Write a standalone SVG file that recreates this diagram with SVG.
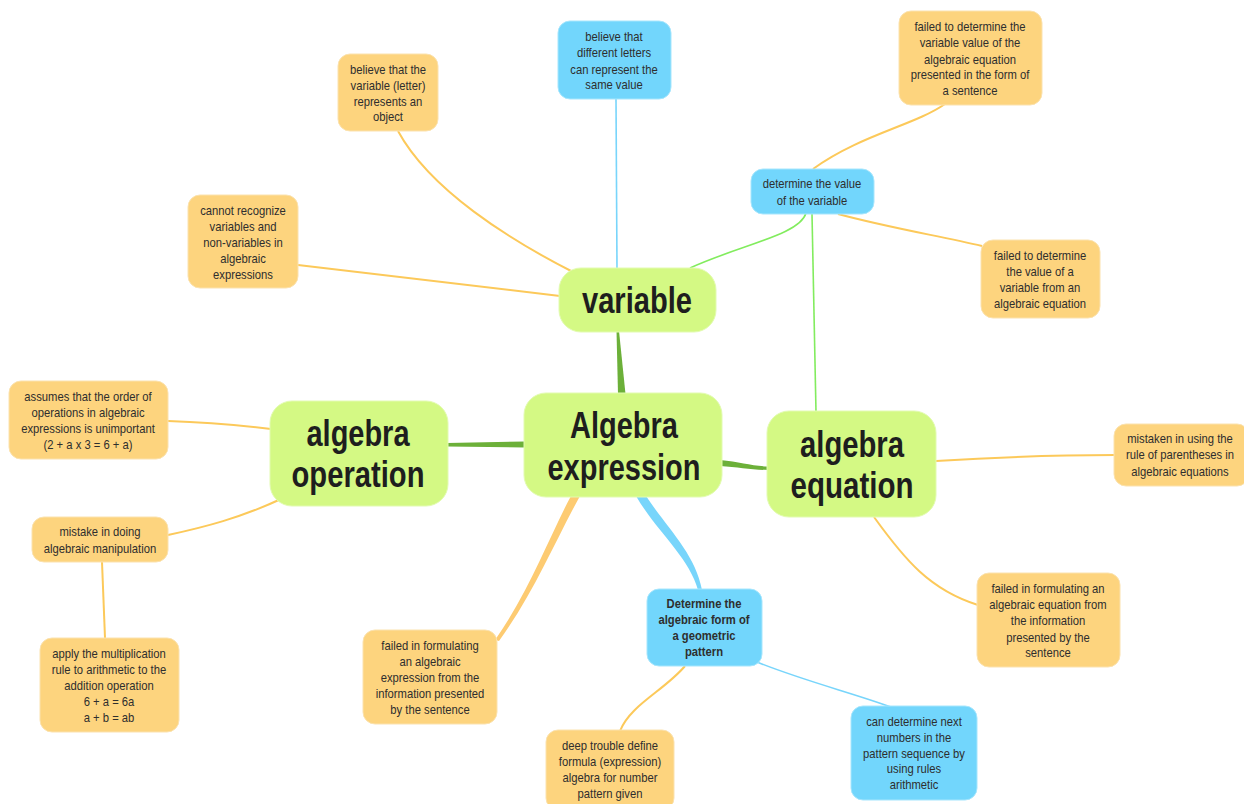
<svg xmlns="http://www.w3.org/2000/svg" width="1244" height="804" viewBox="0 0 1244 804">
<style>
.o{fill:#fdd47e;stroke:#fbe2ae;stroke-width:1}
.b{fill:#72d6fc;stroke:#a6e6fd;stroke-width:1}
.g{fill:#d4f984;stroke:#e2fbb0;stroke-width:1}
.t{font-family:"Liberation Sans",Arial,sans-serif;font-size:12.5px;fill:#2e2e2e;text-anchor:middle}
.tb{font-weight:bold}
.big{font-family:"Liberation Sans",Arial,sans-serif;font-size:36px;font-weight:bold;fill:#1e1e1e;text-anchor:middle}
.ly{fill:none;stroke:#fcc95a;stroke-width:2}
.lb{fill:none;stroke:#78d5fb;stroke-width:1.6}
.lg{fill:none;stroke:#82ec5e;stroke-width:1.6}
.dg{fill:#6cb039}
</style>
<rect width="1244" height="804" fill="#ffffff"/>
<g id="connectors">
  <path class="dg" d="M616.5,331 L619,331 L625.5,394 L618,394 Z"/>
  <path class="dg" d="M447,443 L525,441.5 L525,447.5 L447,446.5 Z"/>
  <path class="dg" d="M720,460 C740,462 752,466 768,466.5 L768,470 C752,470 738,467 720,466 Z"/>
  <path d="M571,496 C550,535 530,590 495,640 L499,641 C534,593 556,539 580,496 Z" fill="#fdcb72"/>
  <path d="M636,496 C657,532 689,557 698,590 L702,590 C695,553 667,528 646,496 Z" fill="#78d5fb"/>
  <path class="ly" d="M573,272 C510,240 430,190 398,131"/>
  <path class="ly" d="M560,296 C470,285 380,275 298,265"/>
  <path class="lb" d="M616,99 L617,269"/>
  <path class="lg" d="M690,268 C740,245 800,235 806,213"/>
  <path class="ly" d="M813,169 C860,135 915,125 945,104"/>
  <path class="ly" d="M838,214 C890,228 940,236 982,246"/>
  <path class="lg" d="M812,214 L816,412"/>
  <path class="ly" d="M271,429 C230,424 200,422 168,421"/>
  <path class="ly" d="M281,499 C240,518 205,527 168,535"/>
  <path class="ly" d="M102,562 L105,638"/>
  <path class="ly" d="M936,461 C1000,457 1060,455 1115,455"/>
  <path class="ly" d="M874,517 C905,560 930,590 978,605"/>
  <path class="ly" d="M685,666 C665,690 630,705 620,731"/>
  <path class="lb" d="M752,660 C800,680 850,692 891,707" stroke-width="2"/>
</g>
<g id="n-center">
  <rect class="g" x="524" y="393" width="198" height="104" rx="22"/>
  <text class="big" x="624" y="438" textLength="108" lengthAdjust="spacingAndGlyphs">Algebra</text>
  <text class="big" x="624" y="480" textLength="153" lengthAdjust="spacingAndGlyphs">expression</text>
</g>
<g id="n-variable">
  <rect class="g" x="559" y="268" width="157" height="64" rx="22"/>
  <text class="big" x="637" y="313" textLength="110" lengthAdjust="spacingAndGlyphs">variable</text>
</g>
<g id="n-operation">
  <rect class="g" x="270" y="401" width="178" height="105" rx="22"/>
  <text class="big" x="358" y="446" textLength="103" lengthAdjust="spacingAndGlyphs">algebra</text>
  <text class="big" x="358" y="487" textLength="133" lengthAdjust="spacingAndGlyphs">operation</text>
</g>
<g id="n-equation">
  <rect class="g" x="767" y="411" width="169" height="106" rx="22"/>
  <text class="big" x="852" y="457" textLength="104" lengthAdjust="spacingAndGlyphs">algebra</text>
  <text class="big" x="852" y="498" textLength="123" lengthAdjust="spacingAndGlyphs">equation</text>
</g>
<g id="n-object">
  <rect class="o" x="338" y="54" width="100" height="77" rx="12"/>
  <g transform="translate(388 0) scale(0.9 1)">
  <text class="t" x="0" y="74">believe that the</text>
  <text class="t" x="0" y="90">variable (letter)</text>
  <text class="t" x="0" y="106">represents an</text>
  <text class="t" x="0" y="121">object</text>
  </g>
</g>
<g id="n-recognize">
  <rect class="o" x="188" y="195" width="110" height="93" rx="12"/>
  <g transform="translate(243 0) scale(0.9 1)">
  <text class="t" x="0" y="215">cannot recognize</text>
  <text class="t" x="0" y="231">variables and</text>
  <text class="t" x="0" y="247">non-variables in</text>
  <text class="t" x="0" y="263">algebraic</text>
  <text class="t" x="0" y="279">expressions</text>
  </g>
</g>
<g id="n-letters">
  <rect class="b" x="558" y="21" width="113" height="78" rx="12"/>
  <g transform="translate(614 0) scale(0.9 1)">
  <text class="t" x="0" y="41">believe that</text>
  <text class="t" x="0" y="57">different letters</text>
  <text class="t" x="0" y="74">can represent the</text>
  <text class="t" x="0" y="89">same value</text>
  </g>
</g>
<g id="n-sentence-var">
  <rect class="o" x="899" y="11" width="143" height="94" rx="12"/>
  <g transform="translate(970 0) scale(0.9 1)">
  <text class="t" x="0" y="31">failed to determine the</text>
  <text class="t" x="0" y="47">variable value of the</text>
  <text class="t" x="0" y="64">algebraic equation</text>
  <text class="t" x="0" y="79">presented in the form of</text>
  <text class="t" x="0" y="95">a sentence</text>
  </g>
</g>
<g id="n-determine-value">
  <rect class="b" x="751" y="169" width="123" height="45" rx="12"/>
  <g transform="translate(812 0) scale(0.9 1)">
  <text class="t" x="0" y="188">determine the value</text>
  <text class="t" x="0" y="205">of the variable</text>
  </g>
</g>
<g id="n-from-equation">
  <rect class="o" x="981" y="240" width="119" height="78" rx="12"/>
  <g transform="translate(1040 0) scale(0.9 1)">
  <text class="t" x="0" y="260">failed to determine</text>
  <text class="t" x="0" y="276">the value of a</text>
  <text class="t" x="0" y="292">variable from an</text>
  <text class="t" x="0" y="308">algebraic equation</text>
  </g>
</g>
<g id="n-order">
  <rect class="o" x="9" y="381" width="159" height="78" rx="12"/>
  <g transform="translate(88 0) scale(0.9 1)">
  <text class="t" x="0" y="401">assumes that the order of</text>
  <text class="t" x="0" y="417">operations in algebraic</text>
  <text class="t" x="0" y="433">expressions is unimportant</text>
  <text class="t" x="0" y="449">(2 + a x 3 = 6 + a)</text>
  </g>
</g>
<g id="n-mistake">
  <rect class="o" x="32" y="517" width="136" height="45" rx="12"/>
  <g transform="translate(100 0) scale(0.9 1)">
  <text class="t" x="0" y="536">mistake in doing</text>
  <text class="t" x="0" y="553">algebraic manipulation</text>
  </g>
</g>
<g id="n-apply">
  <rect class="o" x="40" y="638" width="139" height="94" rx="12"/>
  <g transform="translate(109 0) scale(0.9 1)">
  <text class="t" x="0" y="658">apply the multiplication</text>
  <text class="t" x="0" y="674">rule to arithmetic to the</text>
  <text class="t" x="0" y="690">addition operation</text>
  <text class="t" x="0" y="706">6 + a = 6a</text>
  <text class="t" x="0" y="722">a + b = ab</text>
  </g>
</g>
<g id="n-formulating-expr">
  <rect class="o" x="363" y="630" width="134" height="94" rx="12"/>
  <g transform="translate(430 0) scale(0.9 1)">
  <text class="t" x="0" y="650">failed in formulating</text>
  <text class="t" x="0" y="666">an algebraic</text>
  <text class="t" x="0" y="682">expression from the</text>
  <text class="t" x="0" y="698">information presented</text>
  <text class="t" x="0" y="714">by the sentence</text>
  </g>
</g>
<g id="n-geometric">
  <rect class="b" x="647" y="589" width="115" height="77" rx="12"/>
  <g transform="translate(704 0) scale(0.9 1)">
  <text class="t tb" x="0" y="608">Determine the</text>
  <text class="t tb" x="0" y="624">algebraic form of</text>
  <text class="t tb" x="0" y="640">a geometric</text>
  <text class="t tb" x="0" y="656">pattern</text>
  </g>
</g>
<g id="n-deep">
  <rect class="o" x="546" y="730" width="128" height="80" rx="12"/>
  <g transform="translate(610 0) scale(0.9 1)">
  <text class="t" x="0" y="750">deep trouble define</text>
  <text class="t" x="0" y="766">formula (expression)</text>
  <text class="t" x="0" y="782">algebra for number</text>
  <text class="t" x="0" y="798">pattern given</text>
  </g>
</g>
<g id="n-next">
  <rect class="b" x="851" y="706" width="126" height="94" rx="12"/>
  <g transform="translate(914 0) scale(0.9 1)">
  <text class="t" x="0" y="726">can determine next</text>
  <text class="t" x="0" y="742">numbers in the</text>
  <text class="t" x="0" y="758">pattern sequence by</text>
  <text class="t" x="0" y="773">using rules</text>
  <text class="t" x="0" y="789">arithmetic</text>
  </g>
</g>
<g id="n-parentheses">
  <rect class="o" x="1114" y="424" width="135" height="62" rx="12"/>
  <g transform="translate(1180 0) scale(0.9 1)">
  <text class="t" x="0" y="443">mistaken in using the</text>
  <text class="t" x="0" y="459">rule of parentheses in</text>
  <text class="t" x="0" y="476">algebraic equations</text>
  </g>
</g>
<g id="n-formulating-eq">
  <rect class="o" x="977" y="573" width="143" height="94" rx="12"/>
  <g transform="translate(1048 0) scale(0.9 1)">
  <text class="t" x="0" y="593">failed in formulating an</text>
  <text class="t" x="0" y="609">algebraic equation from</text>
  <text class="t" x="0" y="625">the information</text>
  <text class="t" x="0" y="642">presented by the</text>
  <text class="t" x="0" y="657">sentence</text>
  </g>
</g>
</svg>
